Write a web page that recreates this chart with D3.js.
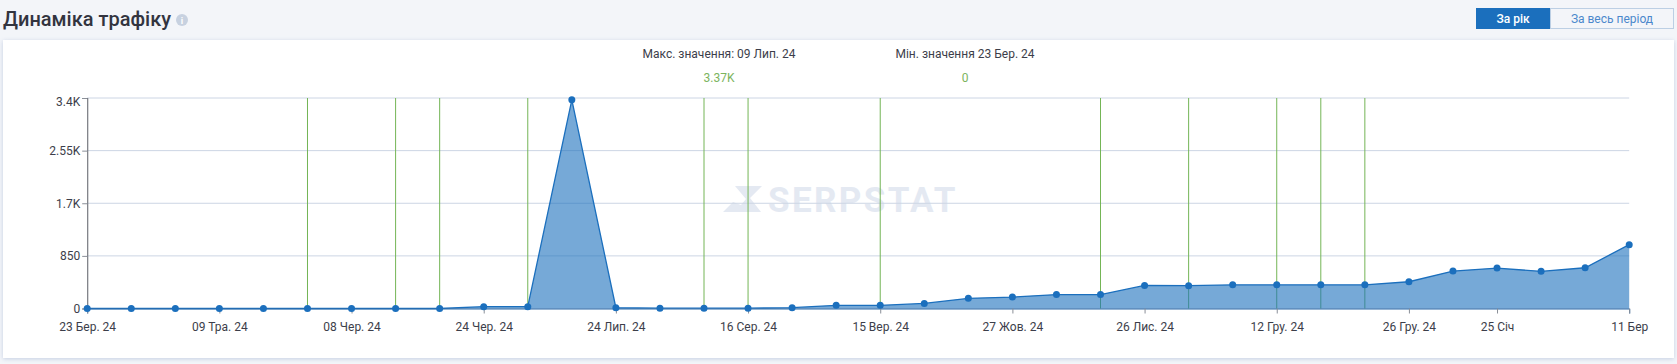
<!DOCTYPE html>
<html>
<head>
<meta charset="utf-8">
<script src="https://cdn.jsdelivr.net/npm/d3@7"></script>
<style>
  html, body { margin: 0; padding: 0; background: #f3f5f9; }
  svg { display: block; }
  text { font-family: Roboto, sans-serif; }
</style>
</head>
<body>
<svg id="chart" width="1677" height="364"></svg>
<script>
// hidden dates between the labelled ticks are estimated
const dates = ['23 Бер. 24', '06 Кві. 24', '20 Кві. 24', '09 Тра. 24', '18 Тра. 24', '27 Тра. 24',
  '08 Чер. 24', '12 Чер. 24', '18 Чер. 24', '24 Чер. 24', '01 Лип. 24', '09 Лип. 24',
  '24 Лип. 24', '31 Лип. 24', '07 Сер. 24', '16 Сер. 24', '23 Сер. 24', '06 Вер. 24',
  '15 Вер. 24', '24 Вер. 24', '06 Жов. 24', '27 Жов. 24', '05 Лис. 24', '14 Лис. 24',
  '26 Лис. 24', '01 Гру. 24', '07 Гру. 24', '12 Гру. 24', '16 Гру. 24', '21 Гру. 24',
  '26 Гру. 24', '10 Січ', '25 Січ', '08 Лют', '24 Лют', '11 Бер'];
const traffic = [0, 0, 0, 0, 0, 0, 0, 0, 0, 30, 30, 3370, 12, 5, 5, 5, 14, 52,
  52, 82, 165, 185, 225, 225, 372, 368, 383, 383, 383, 383, 432, 604, 653, 600, 658, 1031];
const xTicks = ['23 Бер. 24', '09 Тра. 24', '08 Чер. 24', '24 Чер. 24', '24 Лип. 24', '16 Сер. 24',
  '15 Вер. 24', '27 Жов. 24', '26 Лис. 24', '12 Гру. 24', '26 Гру. 24', '25 Січ', '11 Бер'];
const yTicks = [0, 850, 1700, 2550, 3400];
const yLabels = ['0', '850', '1.7K', '2.55K', '3.4K'];
const updates = ['27 Тра. 24', '12 Чер. 24', '18 Чер. 24', '01 Лип. 24', '07 Сер. 24', '16 Сер. 24',
  '15 Вер. 24', '14 Лис. 24', '01 Гру. 24', '12 Гру. 24', '16 Гру. 24', '21 Гру. 24'];

const svg = d3.select('#chart');
const padding = { top: 98, right: 47.8, bottom: 55.5, left: 87.2 };
const width = +svg.attr('width');
const height = +svg.attr('height');

const xScale = d3.scalePoint().domain(dates).range([padding.left, width - padding.right]);
const yScale = d3.scaleLinear().domain([0, 3400]).range([height - padding.bottom, padding.top]);

// header
svg.append('text')
  .attr('x', 3).attr('y', 26)
  .attr('font-size', 20).attr('font-weight', 500).attr('fill', '#32343f')
  .text('Динаміка трафіку');
svg.append('circle')
  .attr('cx', 182).attr('cy', 20).attr('r', 6).attr('fill', '#c7d1e0');
svg.append('text')
  .attr('x', 182).attr('y', 23.5).attr('text-anchor', 'middle')
  .attr('font-size', 9).attr('font-weight', 700).attr('fill', '#fff')
  .text('i');

svg.append('rect')
  .attr('x', 1476).attr('y', 8).attr('width', 74).attr('height', 21).attr('fill', '#1b6fbd');
svg.append('rect')
  .attr('x', 1550.5).attr('y', 8.5).attr('width', 123).attr('height', 20)
  .attr('fill', '#f3f5f9').attr('stroke', '#bccfe4');
svg.append('text')
  .attr('x', 1513).attr('y', 23).attr('text-anchor', 'middle')
  .attr('font-size', 12).attr('font-weight', 500).attr('fill', '#fff')
  .text('За рік');
svg.append('text')
  .attr('x', 1612).attr('y', 23).attr('text-anchor', 'middle')
  .attr('font-size', 12).attr('fill', '#4b88cc')
  .text('За весь період');

// card
const defs = svg.append('defs');
const shadow = defs.append('filter').attr('id', 'shadow')
  .attr('x', '-2%').attr('y', '-5%').attr('width', '104%').attr('height', '110%');
shadow.append('feDropShadow')
  .attr('dx', 0).attr('dy', 1).attr('stdDeviation', 2)
  .attr('flood-color', '#bfcbe0').attr('flood-opacity', 0.9);
svg.append('rect')
  .attr('x', 3).attr('y', 40).attr('width', 1671).attr('height', 318)
  .attr('fill', '#fff').attr('filter', 'url(#shadow)');

// max / min captions
const caption = svg.append('g').attr('font-size', 12).attr('text-anchor', 'middle');
caption.append('text').attr('x', 719).attr('y', 58).attr('fill', '#3c3e4a')
  .text('Макс. значення: 09 Лип. 24');
caption.append('text').attr('x', 719).attr('y', 82).attr('fill', '#7cb45e')
  .text('3.37K');
caption.append('text').attr('x', 965).attr('y', 58).attr('fill', '#3c3e4a')
  .text('Мін. значення 23 Бер. 24');
caption.append('text').attr('x', 965).attr('y', 82).attr('fill', '#7cb45e')
  .text('0');

// watermark
const mark = svg.append('g').attr('fill', '#e4e9f2');
mark.append('path').attr('d', 'M735 186 L762 186 L750 198 L761 212 L723 212 L733 202 L741 205 L746 199 Z');
mark.append('text')
  .attr('x', 768).attr('y', 212)
  .attr('font-size', 35).attr('font-weight', 700).attr('letter-spacing', 2.4)
  .text('SERPSTAT');

// grid
svg.append('g')
  .selectAll('line')
  .data(yTicks)
  .join('line')
    .attr('x1', padding.left)
    .attr('x2', width - padding.right)
    .attr('y1', d => yScale(d))
    .attr('y2', d => yScale(d))
    .attr('stroke', '#ccd5e4')
    .attr('stroke-width', 1);

// update markers
svg.append('g')
  .selectAll('line')
  .data(updates)
  .join('line')
    .attr('x1', d => xScale(d))
    .attr('x2', d => xScale(d))
    .attr('y1', yScale(3400))
    .attr('y2', yScale(0))
    .attr('stroke', '#74b556')
    .attr('stroke-width', 1);

// area + line
const area = d3.area()
  .x((d, i) => xScale(dates[i]))
  .y0(yScale(0))
  .y1(d => yScale(d));
const line = d3.line()
  .x((d, i) => xScale(dates[i]))
  .y(d => yScale(d));

svg.append('path')
  .datum(traffic)
  .attr('d', area)
  .attr('fill', '#1b6fbd')
  .attr('fill-opacity', 0.6);
svg.append('path')
  .datum(traffic)
  .attr('d', line)
  .attr('fill', 'none')
  .attr('stroke', '#1b6fbd')
  .attr('stroke-width', 1.3);

// axes
const xAxis = d3.axisBottom(xScale)
  .tickValues(xTicks)
  .tickSize(5)
  .tickPadding(9);
const yAxis = d3.axisLeft(yScale)
  .tickValues(yTicks)
  .tickFormat((d, i) => yLabels[i])
  .tickSize(5)
  .tickPadding(2);

const xG = svg.append('g')
  .attr('transform', 'translate(0,' + yScale(0) + ')')
  .call(xAxis);
const yG = svg.append('g')
  .attr('transform', 'translate(' + padding.left + ',0)')
  .call(yAxis);

xG.select('.domain').attr('stroke', '#2c6aa8').attr('stroke-width', 1);
yG.select('.domain').attr('stroke', '#77797f').attr('stroke-width', 1.2);
xG.selectAll('.tick line').attr('stroke', '#8a8f98');
yG.selectAll('.tick line').attr('stroke', '#8a8f98');
xG.selectAll('text').attr('font-size', 12).attr('font-family', 'Roboto, sans-serif').attr('fill', '#3c3e4a');
yG.selectAll('text').attr('font-size', 12).attr('font-family', 'Roboto, sans-serif').attr('fill', '#3c3e4a');
// top label sits under its tick
yG.selectAll('.tick text').filter(d => d === 3400).attr('dy', '0.32em').attr('y', 4);

// points
svg.append('g')
  .selectAll('circle')
  .data(traffic)
  .join('circle')
    .attr('cx', (d, i) => xScale(dates[i]))
    .attr('cy', d => yScale(d))
    .attr('r', 3.5)
    .attr('fill', '#1b6fbd');
</script>
</body>
</html>
